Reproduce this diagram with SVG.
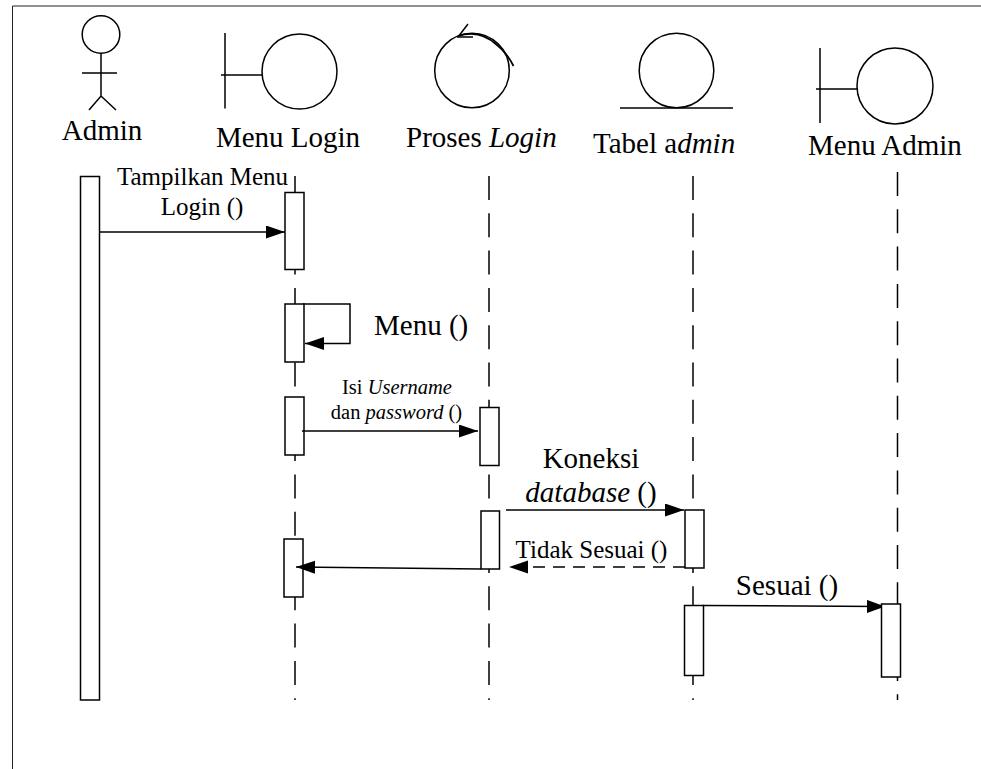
<svg xmlns="http://www.w3.org/2000/svg" width="981" height="769" viewBox="0 0 981 769">
<defs>
<marker id="ah" markerUnits="userSpaceOnUse" markerWidth="20" markerHeight="14" refX="19" refY="6.5" orient="auto"><path d="M0 0L19 6.5L0 13Z" fill="#000"/></marker>
<marker id="ab" markerUnits="userSpaceOnUse" markerWidth="15" markerHeight="14" refX="14" refY="6.5" orient="auto"><path d="M0 0L14 5V8L0 13Z" fill="#000"/></marker>
</defs>
<style>
.s{fill:none;stroke:#000;stroke-width:1.5}
.b{fill:#fff;stroke:#000;stroke-width:1.5}
.d{fill:none;stroke:#000;stroke-width:1.5;stroke-dasharray:24 13.3}
text{font-family:"Liberation Serif","Times New Roman",serif;fill:#000}
.l{font-size:29px}.t{font-size:25px}.x{font-size:20.5px}
</style>
<rect width="981" height="769" fill="#fff"/>
<path d="M12.500 769V6H981" fill="none" stroke="#222" stroke-width="1"/>
<g id="lifelines">
<path class="d" d="M295 176V700"/>
<path class="d" d="M489 176V700"/>
<path class="d" d="M693 176V700"/>
<path class="d" d="M897.500 172V700"/>
</g>
<g id="admin"><circle class="s" cx="101" cy="34.500" r="18.800"/><path class="s" d="M101 53V96M82 73H117M89 110L101 96L116 110"/><text class="l" x="102" y="140" text-anchor="middle">Admin</text>
<rect class="b" x="80.500" y="176.500" width="19" height="523.500"/></g>
<g id="menu-login"><path class="s" d="M225 33V108.500M221 75H262"/><circle class="s" cx="299.500" cy="71.500" r="37.500"/><text class="l" x="288" y="147" text-anchor="middle">Menu Login</text>
<rect class="b" x="285" y="192.500" width="19" height="77"/><rect class="b" x="285" y="304" width="19" height="58"/><rect class="b" x="285" y="397" width="19" height="58"/><rect class="b" x="284" y="539" width="19" height="58"/></g>
<g id="proses-login"><circle class="s" cx="472" cy="70.500" r="37.300"/><path class="s" d="M468 24L458 37H473"/><path d="M458 36Q480 29 497 45Q507 53 513.500 66" fill="none" stroke="#000" stroke-width="1.800"/><text class="l" x="406" y="147">Proses <tspan font-style="italic">Login</tspan></text>
<rect class="b" x="480" y="407.500" width="19" height="58"/><rect class="b" x="481" y="511" width="18.500" height="58"/></g>
<g id="tabel-admin"><circle class="s" cx="676.500" cy="70.500" r="37.300"/><path class="s" d="M620 108H733"/><text class="l" x="593" y="153">Tabel a<tspan font-style="italic">dmin</tspan></text>
<rect class="b" x="685" y="510" width="19" height="58"/><rect class="b" x="684.500" y="605.500" width="19" height="70"/></g>
<g id="menu-admin"><path class="s" d="M820 48V123M816 89H858"/><circle class="s" cx="895" cy="86" r="38"/><text class="l" x="808" y="155">Menu Admin</text>
<rect class="b" x="881.500" y="604" width="19" height="73"/></g>
<g id="connectors">
<path class="s" d="M99 232H285" marker-end="url(#ah)"/>
<path class="s" d="M303 304H350V343.500H305" marker-end="url(#ah)"/>
<path class="s" d="M302 431H478" marker-end="url(#ah)"/>
<path class="s" d="M506 510H684" marker-end="url(#ah)"/>
<path class="s" d="M685 567H509" stroke-dasharray="12 8" marker-end="url(#ah)"/>
<path class="s" d="M481 569L296 567" marker-end="url(#ah)"/>
<path class="s" d="M703 605.500L881 606.500" marker-end="url(#ab)"/>
</g>
<g id="labels">
<text class="t" x="202.500" y="185" text-anchor="middle">Tampilkan Menu</text>
<text class="t" x="202" y="215" text-anchor="middle">Login ()</text>
<text class="l" x="374" y="335">Menu ()</text>
<text class="x" x="397" y="394" text-anchor="middle">Isi <tspan font-style="italic">Username</tspan></text>
<text class="x" x="396.500" y="419" text-anchor="middle">dan <tspan font-style="italic">password</tspan> ()</text>
<text class="l" x="591" y="468" text-anchor="middle">Koneksi</text>
<text class="l" x="591" y="502" text-anchor="middle"><tspan font-style="italic">database</tspan> ()</text>
<text class="t" x="591.500" y="558" text-anchor="middle">Tidak Sesuai ()</text>
<text class="l" x="787" y="595" text-anchor="middle">Sesuai ()</text>
</g>
</svg>
